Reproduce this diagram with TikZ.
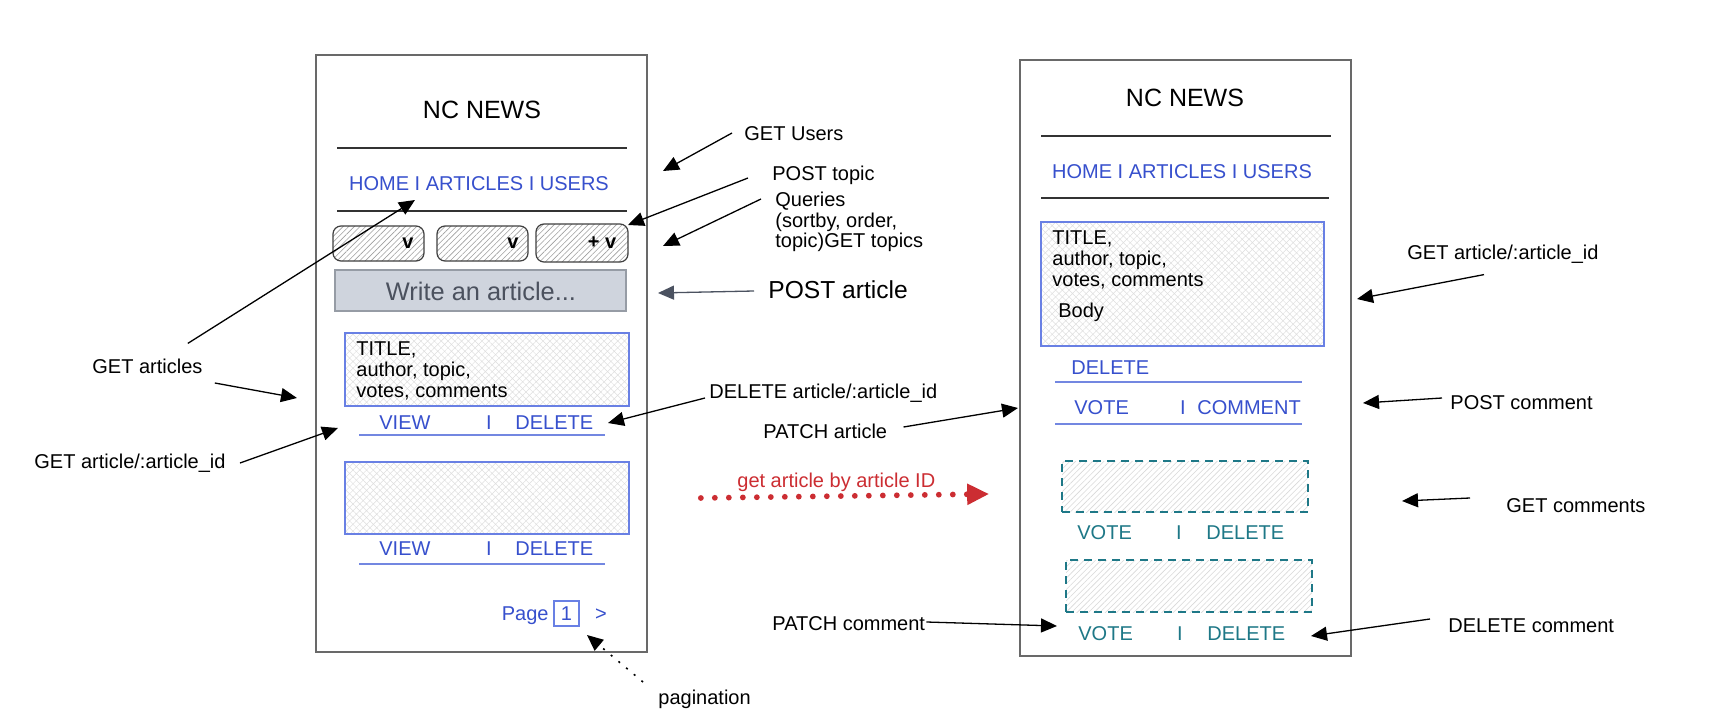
\documentclass[tikz,border=0pt]{standalone}
\usepackage{fontspec}
\setmainfont{Liberation Sans}
\usetikzlibrary{arrows.meta,patterns.meta,calc,fit}
\definecolor{nblue}{RGB}{55,80,205}
\definecolor{bblue}{RGB}{105,128,228}
\definecolor{ublue}{RGB}{115,135,225}
\definecolor{tealc}{RGB}{30,120,135}
\definecolor{nred}{RGB}{204,45,50}
\definecolor{wfill}{RGB}{207,212,221}
\definecolor{wtext}{RGB}{75,81,94}
\definecolor{wdraw}{RGB}{150,156,165}
\definecolor{slate}{RGB}{75,82,96}
\definecolor{framec}{RGB}{105,105,105}
\begin{document}
\begin{tikzpicture}[x=0.5pt,y=-0.5pt,
  every node/.style={inner sep=0pt},
  lbl/.style={font=\fontsize{10}{10.25}\selectfont, text height=7.2pt, text depth=0pt},
  mlbl/.style={font=\fontsize{10}{10.25}\selectfont, align=left, anchor=north west},
  big/.style={font=\fontsize{12.5}{15}\selectfont, text height=9pt, text depth=0pt},
  phone/.style={draw=framec, line width=0.85pt, inner sep=0pt},
  hline/.style={draw=black!80, line width=0.7pt},
  uline/.style={draw=ublue, line width=0.7pt},
  ddbox/.style={draw=black!75, line width=0.6pt, rounded corners=4pt, inner sep=0pt,
    pattern={Lines[angle=45,distance=2pt,line width=0.3pt]}, pattern color=gray!75},
  wbox/.style={draw=wdraw, fill=wfill, line width=0.6pt, inner sep=0pt},
  abox/.style={draw=bblue, line width=0.6pt, inner sep=0pt,
    pattern={Hatch[angle=45,distance=2.4pt,line width=0.25pt]}, pattern color=gray!25},
  cbox/.style={draw=tealc, line width=0.9pt, dash pattern=on 4pt off 3pt, inner sep=0pt,
    pattern={Lines[angle=45,distance=2pt,line width=0.3pt]}, pattern color=gray!30},
  bt/.style={lbl, text=nblue},
  tt/.style={lbl, text=tealc},
  arr/.style={draw=black, line width=0.65pt, -{Triangle[length=8pt,width=7pt]}},
  sarr/.style={draw=slate, line width=0.65pt, -{Triangle[length=8pt,width=7pt]}},
  darr/.style={draw=black, line width=0.8pt, dash pattern=on 1pt off 4pt, -{Triangle[length=8pt,width=7pt]}},
  redarr/.style={draw=nred, line width=2.9pt, line cap=round, dash pattern=on 0pt off 7pt,
    -{Triangle[length=11pt,width=10pt]}}
]
\fill[white] (0,0) rectangle (1710,728);
\useasboundingbox (0,0) rectangle (1710,728);

% ---------------- left phone ----------------
\node[phone, fit={(316,55)(647,652)}] (lf) {};
\node[big] (lt) at (482,110) {NC NEWS};
\draw[hline] (337,148) -- (627,148);
\node[bt] (lnav) at (479,183) {HOME I ARTICLES I USERS};
\draw[hline] (337,211) -- (627,211);
\node[ddbox, fit={(333,226)(424,261)}] (d1) {};
\node[font=\fontsize{10}{12}\selectfont\bfseries, anchor=base] (d1v) at (408,248) {v};
\node[ddbox, fit={(437,226)(528,261)}] (d2) {};
\node[font=\fontsize{10}{12}\selectfont\bfseries, anchor=base] (d2v) at (513,248) {v};
\node[ddbox, fit={(536,224)(628,262)}] (d3) {};
\node[font=\fontsize{10}{12}\selectfont\bfseries, anchor=base] (d3v) at (602,248) {+ v};
\node[wbox, fit={(335,270)(626,311)}] (wb) {};
\node[font=\fontsize{12.7}{15}\selectfont, text height=9.1pt, text depth=0pt, text=wtext] (wbt) at (481,291) {Write an article...};
\node[abox, fit={(345,333)(629,406)}] (a1) {};
\node[mlbl, font=\fontsize{10}{10.5}\selectfont] (a1t) at (356,341) {TITLE,\\author, topic,\\votes, comments};
\node[bt, anchor=west] (v1) at (379,422) {VIEW};
\node[bt] (s1) at (489,422) {I};
\node[bt, anchor=west] (x1) at (515,422) {DELETE};
\draw[uline] (359,435) -- (605,435);
\node[abox, fit={(345,462)(629,534)}] (a2) {};
\node[bt, anchor=west] (v2) at (379,548) {VIEW};
\node[bt] (s2) at (489,548) {I};
\node[bt, anchor=west] (x2) at (515,548) {DELETE};
\draw[uline] (359,564) -- (605,564);
\node[bt, anchor=east] (pg) at (549,613) {Page};
\node[draw=bblue, line width=0.6pt, fit={(554,601)(579,626)}] (pb) {};
\node[bt] (pb1) at (566.5,613) {1};
\node[bt] (pnext) at (601,613) {>};

% ---------------- right phone ----------------
\node[phone, fit={(1020,60)(1351,656)}] (rf) {};
\node[big] (rt) at (1185,97) {NC NEWS};
\draw[hline] (1041,136) -- (1331,136);
\node[bt] (rnav) at (1182,171) {HOME I ARTICLES I USERS};
\draw[hline] (1041,198) -- (1329,198);
\node[abox, fit={(1041,222)(1324,346)}] (ra) {};
\node[mlbl, font=\fontsize{10}{10.5}\selectfont] (rat) at (1052,230) {TITLE,\\author, topic,\\votes, comments};
\node[lbl, anchor=west] (rbody) at (1058,310) {Body};
\node[bt, anchor=west] (rdel) at (1071,367) {DELETE};
\draw[uline] (1055,382) -- (1302,382);
\node[bt, anchor=west] (rvote) at (1074,407) {VOTE};
\node[bt] (rs) at (1183,407) {I};
\node[bt, anchor=west] (rcom) at (1197,407) {COMMENT};
\draw[uline] (1055,424) -- (1302,424);
\node[cbox, fit={(1062,461)(1308,512)}] (c1) {};
\node[tt, anchor=west] (c1v) at (1077,532) {VOTE};
\node[tt] (c1s) at (1179,532) {I};
\node[tt, anchor=west] (c1d) at (1206,532) {DELETE};
\node[cbox, fit={(1066,560)(1312,612)}] (c2) {};
\node[tt, anchor=west] (c2v) at (1078,633) {VOTE};
\node[tt] (c2s) at (1180,633) {I};
\node[tt, anchor=west] (c2d) at (1207,633) {DELETE};

% ---------------- annotation labels ----------------
\node[lbl, anchor=west] (gu) at (744,133) {GET Users};
\node[lbl, anchor=west] (pt) at (772,173) {POST topic};
\node[mlbl] (qu) at (775,192) {Queries\\(sortby, order,\\topic)GET topics};
\node[font=\fontsize{12.3}{14}\selectfont, text height=8.9pt, text depth=0pt, anchor=west] (pa) at (768,290) {POST article};
\node[lbl, anchor=west] (da) at (709,391) {DELETE article/:article\_id};
\node[lbl, anchor=west] (pch) at (763,431) {PATCH article};
\node[lbl, anchor=west, text=nred] (red) at (737,480) {get article by article ID};
\node[lbl, anchor=west] (ga) at (92,366) {GET articles};
\node[lbl, anchor=west] (gai) at (34,461) {GET article/:article\_id};
\node[lbl, anchor=west] (pag) at (658,697) {pagination};
\node[lbl, anchor=west] (rga) at (1407,252) {GET article/:article\_id};
\node[lbl, anchor=west] (pc) at (1450,402) {POST comment};
\node[lbl, anchor=west] (gc) at (1506,505) {GET comments};
\node[lbl, anchor=west] (dc) at (1448,625) {DELETE comment};
\node[lbl, anchor=west] (pcm) at (772,623) {PATCH comment};

% ---------------- arrow tips ----------------
\coordinate (tGU) at (663,171);
\coordinate (tPT) at (628,225);
\coordinate (tQU) at (663,246);
\coordinate (tPA) at (658,293);
\coordinate (tDA) at (608,423);
\coordinate (tPCH) at (1018,408);
\coordinate (tGA1) at (415,200);
\coordinate (tGA2) at (297,398);
\coordinate (tGAI) at (338,428);
\coordinate (tPAG) at (587,635);
\coordinate (tRGA) at (1357,299);
\coordinate (tPC) at (1363,403);
\coordinate (tGC) at (1402,501);
\coordinate (tDC) at (1311,636);
\coordinate (tPCM) at (1057,626);

% ---------------- connectors ----------------
\draw[arr] ($(gu.west)+(-12,0)$) -- (tGU);
\draw[arr] ($(pt.west)+(-24,5)$) -- (tPT);
\draw[arr] ($(qu.north west)+(-14,7)$) -- (tQU);
\draw[sarr] ($(pa.west)+(-14,1)$) -- (tPA);
\draw[arr] ($(da.west)+(-4,7)$) -- (tDA);
\draw[arr] ($(pch.east)+(16,-4)$) -- (tPCH);
\draw[arr] ($(ga.north east)+(-15,-15)$) -- (tGA1);
\draw[arr] ($(ga.east)+(12,17)$) -- (tGA2);
\draw[arr] ($(gai.east)+(14,2)$) -- (tGAI);
\draw[darr] ($(pag.west)+(-15,-15)$) -- (tPAG);
\draw[arr] ($(rga.south)+(-19,15)$) -- (tRGA);
\draw[arr] ($(pc.west)+(-8,-4)$) -- (tPC);
\draw[arr] ($(gc.west)+(-36,-7)$) -- (tGC);
\draw[arr] ($(dc.west)+(-18,-6)$) -- (tDC);
\draw[arr] ($(pcm.east)+(1,-1)$) -- (tPCM);
\draw[redarr] ($(lf.east)+(53,144.5)$) -- ($(rf.west)+(-30,136)$);
\end{tikzpicture}
\end{document}
